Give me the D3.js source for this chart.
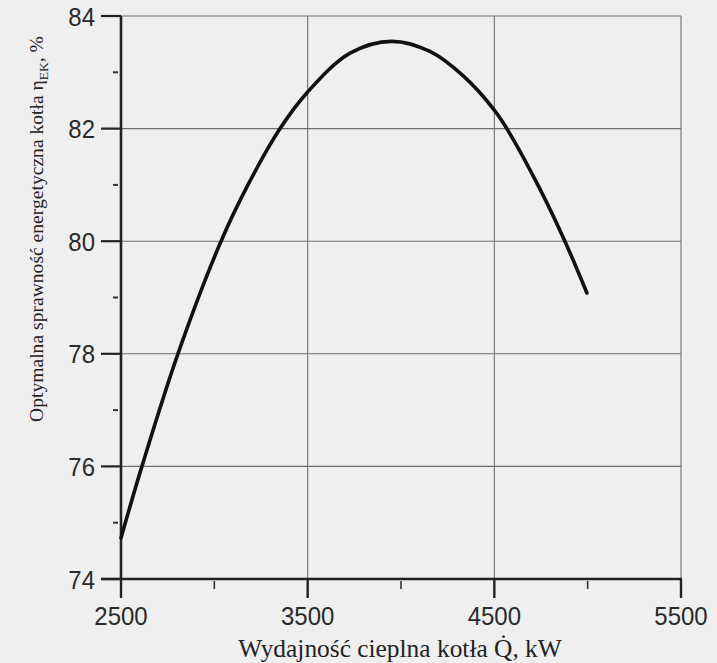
<!DOCTYPE html>
<html>
<head>
<meta charset="utf-8">
<script src="https://cdn.jsdelivr.net/npm/d3@7"></script>
<style>
  html, body { margin: 0; padding: 0; background: #efefef; }
  svg { display: block; }
</style>
</head>
<body>
<script>
// Boiler heat output (kW) and the optimal energy efficiency at that output (%)
const heatOutput = [2500, 2612, 2805, 3036, 3180, 3352, 3500, 3727, 3950, 4155, 4332, 4500, 4567, 4744, 4878, 4996];
const efficiency = [74.73, 76.0, 78.0, 80.0, 81.0, 82.0, 82.65, 83.34, 83.55, 83.37, 82.94, 82.33, 82.0, 80.93, 80.0, 79.08];

const xTicks = [2500, 3500, 4500, 5500];
const xMinorTicks = [3000, 4000, 5000];
const yTicks = [74, 76, 78, 80, 82, 84];
const yMinorTicks = [75, 77, 79, 81, 83];

const W = 717, H = 663;
const plotLeft = 121, plotRight = 681, plotTop = 16, plotBottom = 579;

const svg = d3.select("body").append("svg")
  .attr("width", W).attr("height", H);

svg.append("rect").attr("width", W).attr("height", H).attr("fill", "#efefef");

const x = d3.scaleLinear().domain([2500, 5500]).range([plotLeft, plotRight]);
const y = d3.scaleLinear().domain([74, 84]).range([plotBottom, plotTop]);

const tickFont = "'Liberation Sans', Arial, sans-serif";
const titleFont = "'Liberation Serif', 'Times New Roman', serif";

// Grid: horizontal lines at major y ticks, vertical lines at major x ticks
svg.append("g").selectAll("line").data(yTicks.slice(1)).join("line")
  .attr("x1", plotLeft).attr("x2", plotRight)
  .attr("y1", d => y(d)).attr("y2", d => y(d))
  .attr("stroke", "#6e6e6e").attr("stroke-width", 1.1);
svg.append("g").selectAll("line").data(xTicks.slice(1)).join("line")
  .attr("x1", d => x(d)).attr("x2", d => x(d))
  .attr("y1", plotTop).attr("y2", plotBottom)
  .attr("stroke", "#6e6e6e").attr("stroke-width", 1.1);

// Y axis
const yAxis = svg.append("g").attr("transform", `translate(${plotLeft},0)`);
yAxis.append("line").attr("x1", 0).attr("x2", 0).attr("y1", plotTop).attr("y2", plotBottom + 1)
  .attr("stroke", "#222").attr("stroke-width", 2.6);
yAxis.selectAll("line.major").data(yTicks).join("line").attr("class", "major")
  .attr("x1", -20).attr("x2", 0).attr("y1", d => y(d)).attr("y2", d => y(d))
  .attr("stroke", "#222").attr("stroke-width", 2.2);
yAxis.selectAll("line.minor").data(yMinorTicks).join("line").attr("class", "minor")
  .attr("x1", -8).attr("x2", -3).attr("y1", d => y(d)).attr("y2", d => y(d))
  .attr("stroke", "#333").attr("stroke-width", 2);
yAxis.selectAll("text").data(yTicks).join("text")
  .attr("transform", d => `translate(-26,${y(d) + 9.5}) scale(1,1.1)`)
  .attr("text-anchor", "end")
  .attr("font-family", tickFont).attr("font-size", 24).attr("fill", "#2a2a2a")
  .text(d => d);

// X axis
const xAxis = svg.append("g").attr("transform", `translate(0,${plotBottom})`);
xAxis.append("line").attr("x1", plotLeft - 20).attr("x2", plotRight + 1).attr("y1", 0).attr("y2", 0)
  .attr("stroke", "#222").attr("stroke-width", 2.6);
xAxis.selectAll("line.major").data(xTicks).join("line").attr("class", "major")
  .attr("x1", d => x(d)).attr("x2", d => x(d)).attr("y1", 0).attr("y2", 19)
  .attr("stroke", "#222").attr("stroke-width", 2.4);
xAxis.selectAll("line.minor").data(xMinorTicks).join("line").attr("class", "minor")
  .attr("x1", d => x(d)).attr("x2", d => x(d)).attr("y1", 2).attr("y2", 10)
  .attr("stroke", "#333").attr("stroke-width", 1.6);
xAxis.selectAll("text").data(xTicks).join("text")
  .attr("transform", d => `translate(${x(d)},46) scale(1,1.1)`)
  .attr("text-anchor", "middle")
  .attr("font-family", tickFont).attr("font-size", 24).attr("fill", "#2a2a2a")
  .text(d => d);

// Efficiency curve (smooth spline through the read points)
const pts = heatOutput.map((q, i) => [q, efficiency[i]]);
svg.append("path")
  .datum(pts)
  .attr("fill", "none")
  .attr("stroke", "#111")
  .attr("stroke-width", 3.6)
  .attr("stroke-linecap", "round")
  .attr("d", d3.line().x(d => x(d[0])).y(d => y(d[1])).curve(d3.curveCatmullRom.alpha(0.5)));

// Axis titles
svg.append("text")
  .attr("x", 400).attr("y", 657)
  .attr("text-anchor", "middle")
  .attr("font-family", titleFont).attr("font-size", 25.4).attr("fill", "#222")
  .text("Wydajność cieplna kotła Q\u0307, kW");

const yTitle = svg.append("text")
  .attr("transform", "translate(43,229) rotate(-90)")
  .attr("text-anchor", "middle")
  .attr("font-family", titleFont).attr("font-size", 19.6).attr("fill", "#222");
yTitle.append("tspan").text("Optymalna sprawność energetyczna kotła η");
yTitle.append("tspan").attr("font-size", 13.5).attr("dy", 5).text("EK");
yTitle.append("tspan").attr("dy", -5).text(", %");
</script>
</body>
</html>
